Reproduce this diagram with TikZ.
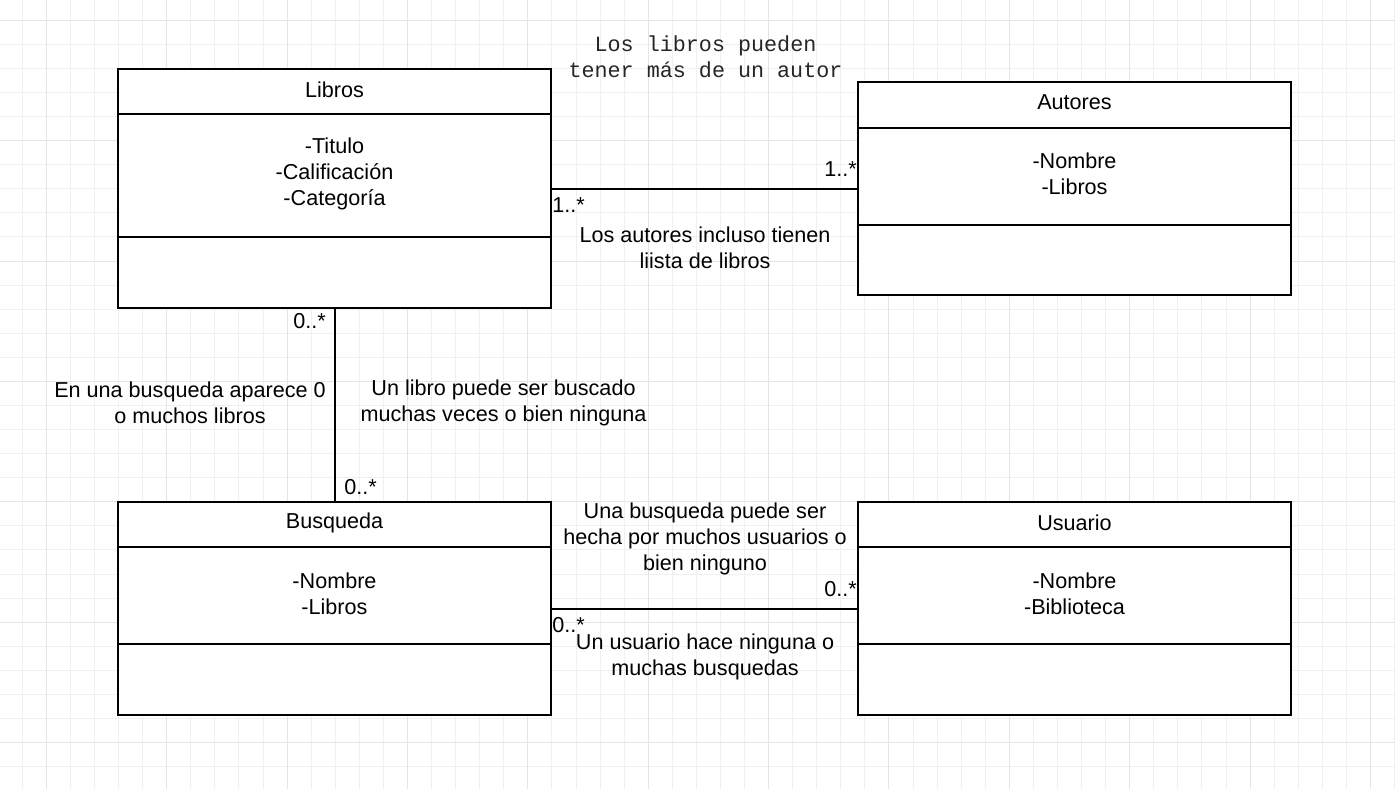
\documentclass[tikz,border=0pt]{standalone}
\usepackage{fontspec}
\setmainfont{Liberation Sans}
\newfontfamily\monofont{Liberation Mono}
\begin{document}
\begin{tikzpicture}[x=0.75pt,y=-0.75pt,
  umlbox/.style={draw=black,line width=1.5pt,fill=white,inner sep=0pt,outer sep=0pt,anchor=north west},
  divider/.style={draw=black,line width=1.5pt},
  assoc/.style={draw=black,line width=1.5pt},
  txt/.style={align=center,inner sep=0pt,font=\fontsize{16.2}{19.3}\selectfont},
  mono/.style={align=center,inner sep=0pt,font=\monofont\fontsize{16.3}{19.5}\selectfont,text=black!85},
  mult/.style={inner sep=0pt,font=\fontsize{16.2}{19.3}\selectfont}]
\fill[white] (0,0) rectangle (1395,789);
\useasboundingbox (0,0) rectangle (1395,789);
% grid
\foreach \i in {0,...,57}{
  \draw[line width=0.75pt,color=black!6] ({22.3+24.074*\i},0) -- ({22.3+24.074*\i},789);}
\foreach \j in {0,...,32}{
  \draw[line width=0.75pt,color=black!6] (0,{20.3+24.074*\j}) -- (1395,{20.3+24.074*\j});}
\foreach \i in {0,...,11}{
  \draw[line width=0.75pt,color=black!10] ({46.3+120.37*\i},0) -- ({46.3+120.37*\i},789);}
\foreach \j in {0,...,6}{
  \draw[line width=0.75pt,color=black!10] (0,{20.3+120.37*\j}) -- (1395,{20.3+120.37*\j});}
% boxes
\node[umlbox,minimum width={433*0.75pt},minimum height={239*0.75pt}] (libros) at (118,69) {};
\node[umlbox,minimum width={433*0.75pt},minimum height={213*0.75pt}] (autores) at (858,82) {};
\node[umlbox,minimum width={433*0.75pt},minimum height={213*0.75pt}] (busqueda) at (118,502) {};
\node[umlbox,minimum width={433*0.75pt},minimum height={213*0.75pt}] (usuario) at (858,502) {};
% dividers
\draw[divider] (libros.west |- 0,114) -- (libros.east |- 0,114);
\draw[divider] (libros.west |- 0,237) -- (libros.east |- 0,237);
\draw[divider] (autores.west |- 0,128) -- (autores.east |- 0,128);
\draw[divider] (autores.west |- 0,225) -- (autores.east |- 0,225);
\draw[divider] (busqueda.west |- 0,547) -- (busqueda.east |- 0,547);
\draw[divider] (busqueda.west |- 0,644) -- (busqueda.east |- 0,644);
\draw[divider] (usuario.west |- 0,547) -- (usuario.east |- 0,547);
\draw[divider] (usuario.west |- 0,644) -- (usuario.east |- 0,644);
% titles and attributes
\node[txt] (librosT) at (334.5,89.5) {Libros};
\node[txt] (librosA) at (334.5,174) {-Titulo\\-Calificación\\-Categoría};
\node[txt] (autoresT) at (1074.5,102.5) {Autores};
\node[txt] (autoresA) at (1074.5,174) {-Nombre\\-Libros};
\node[txt] (busquedaT) at (334.5,522.5) {Busqueda};
\node[txt] (busquedaA) at (334.5,594) {-Nombre\\-Libros};
\node[txt] (usuarioT) at (1074.5,522.5) {Usuario};
\node[txt] (usuarioA) at (1074.5,594) {-Nombre\\-Biblioteca};
% associations
\draw[assoc] (libros) -- (autores);
\draw[assoc] (libros) -- (busqueda);
\draw[assoc] (busqueda) -- (usuario);
% multiplicities
\node[mult,anchor=west] (m1) at (552,205) {1..*};
\node[mult,anchor=east] (m2) at (857,169) {1..*};
\node[mult,anchor=east] (m3) at (326,321) {0..*};
\node[mult,anchor=west] (m4) at (344,487) {0..*};
\node[mult,anchor=east] (m5) at (857,589) {0..*};
\node[mult,anchor=west] (m6) at (552,625) {0..*};
% notes
\node[mono] (n1) at (705.5,57) {Los libros pueden\\tener más de un autor};
\node[txt] (n2) at (705,248) {Los autores incluso tienen\\liista de libros};
\node[txt] (n3) at (190,403) {En una busqueda aparece 0\\o muchos libros};
\node[txt] (n4) at (503.5,403) {Un libro puede ser buscado\\muchas veces o bien ninguna};
\node[txt] (n5) at (705,539) {Una busqueda puede ser\\hecha por muchos usuarios o\\bien ninguno};
\node[txt] (n6) at (705,657) {Un usuario hace ninguna o\\muchas busquedas};
\end{tikzpicture}
\end{document}
